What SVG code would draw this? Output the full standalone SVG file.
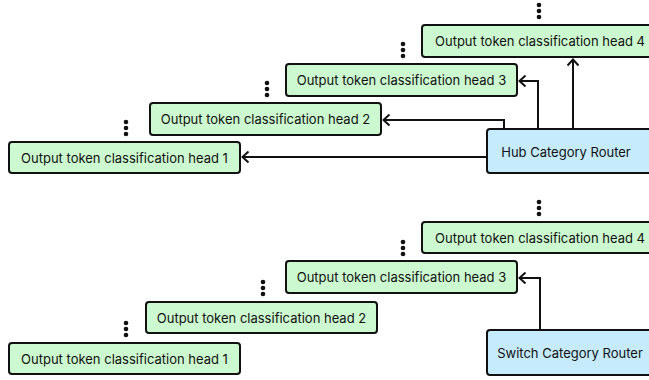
<svg xmlns="http://www.w3.org/2000/svg" width="649" height="380" viewBox="0 0 649 380">
<defs>
<style>
.head{fill:#ccf9cf;stroke:#111;stroke-width:2}
.router{fill:#c5ebfc;stroke:#111;stroke-width:2}
.t{font-family:Inter,"Liberation Sans",sans-serif;font-size:13px;fill:#111;text-anchor:middle;dominant-baseline:central}
.c{fill:none;stroke:#111;stroke-width:2}
.dot{fill:#111}
</style>
<marker id="arr" viewBox="0 0 10 12" refX="8.5" refY="6" markerWidth="10" markerHeight="12" markerUnits="userSpaceOnUse" orient="auto">
<path d="M2,0.5 L8,6 L2,11.5" fill="none" stroke="#111" stroke-width="2"/>
</marker>
<g id="dots"><circle cx="0" cy="0" r="2.3"/><circle cx="0" cy="6" r="2.3"/><circle cx="0" cy="12" r="2.3"/></g>
</defs>
<rect width="649" height="380" fill="#fff"/>

<g id="connectors">
<path class="c" d="M487,157 H242" marker-end="url(#arr)"/>
<path class="c" d="M504,129 V120 H383" marker-end="url(#arr)"/>
<path class="c" d="M538,129 V81 H519" marker-end="url(#arr)"/>
<path class="c" d="M573,129 V59" marker-end="url(#arr)"/>
<path class="c" d="M540,330 V278 H519" marker-end="url(#arr)"/>
</g>

<g id="top-head1"><rect class="head" x="9" y="142" width="231" height="31" rx="3"/><text class="t" x="124.5" y="158">Output token classification head 1</text><use href="#dots" class="dot" x="126" y="122"/></g>
<g id="top-head2"><rect class="head" x="150" y="103" width="231" height="32" rx="3"/><text class="t" x="265.5" y="119">Output token classification head 2</text><use href="#dots" class="dot" x="267" y="83"/></g>
<g id="top-head3"><rect class="head" x="286" y="64" width="231" height="32" rx="3"/><text class="t" x="401.5" y="80">Output token classification head 3</text><use href="#dots" class="dot" x="403" y="44"/></g>
<g id="top-head4"><rect class="head" x="422" y="25" width="236" height="32" rx="3"/><text class="t" x="540" y="41">Output token classification head 4</text><use href="#dots" class="dot" x="539" y="5"/></g>
<g id="hub-router"><rect class="router" x="487" y="129" width="175" height="44" rx="3"/><text class="t" x="566" y="152">Hub Category Router</text></g>

<g id="bot-head1"><rect class="head" x="9" y="343" width="231" height="31" rx="3"/><text class="t" x="124.5" y="359">Output token classification head 1</text><use href="#dots" class="dot" x="126" y="323"/></g>
<g id="bot-head2"><rect class="head" x="146" y="302" width="231" height="31" rx="3"/><text class="t" x="261.5" y="318">Output token classification head 2</text><use href="#dots" class="dot" x="263" y="282"/></g>
<g id="bot-head3"><rect class="head" x="286" y="261" width="231" height="32" rx="3"/><text class="t" x="401.5" y="277">Output token classification head 3</text><use href="#dots" class="dot" x="403" y="242"/></g>
<g id="bot-head4"><rect class="head" x="422" y="222" width="236" height="31" rx="3"/><text class="t" x="540" y="238">Output token classification head 4</text><use href="#dots" class="dot" x="539" y="202"/></g>
<g id="switch-router"><rect class="router" x="487" y="330" width="175" height="45" rx="3"/><text class="t" x="570" y="353">Switch Category Router</text></g>
</svg>
